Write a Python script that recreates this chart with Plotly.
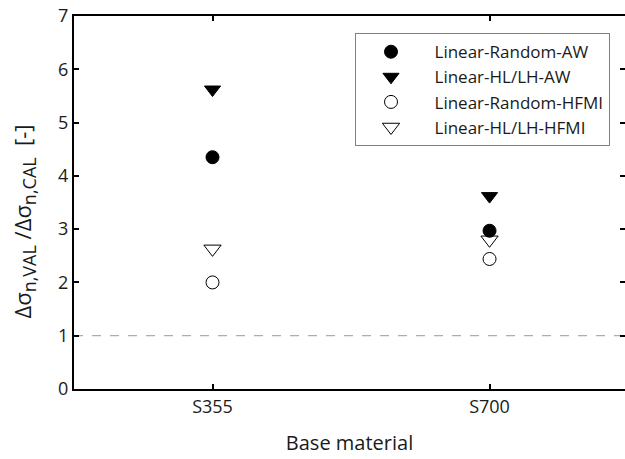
import plotly.graph_objects as go

categories = ["S355", "S700"]
series_names = ["Linear-Random-AW", "Linear-HL/LH-AW", "Linear-Random-HFMI", "Linear-HL/LH-HFMI"]
rand_aw = [4.35, 2.97]
hl_aw = [5.62, 3.62]
rand_hfmi = [2.0, 2.44]
hl_hfmi = [2.63, 2.80]
y_ticks = [0, 1, 2, 3, 4, 5, 6, 7]
ref_level = 1

FONT = "Open Sans"
EM = "\u2002"
styles = [
    dict(symbol="circle", size=13, color="black", line=dict(width=1, color="black")),
    dict(symbol="triangle-down", size=14, color="black", line=dict(width=1, color="black")),
    dict(symbol="circle-open", size=13, color="black", line=dict(width=1, color="black")),
    dict(symbol="triangle-down-open", size=15, color="black", line=dict(width=1, color="black")),
]

fig = go.Figure()
for name, vals, st in zip(series_names, [rand_aw, hl_aw, rand_hfmi, hl_hfmi], styles):
    fig.add_trace(go.Scatter(x=categories, y=vals, mode="markers", name=EM + name, marker=st))

# dummy trace to anchor right-side mirrored ticks
fig.add_trace(go.Scatter(x=categories, y=[None, None], yaxis="y2", showlegend=False, hoverinfo="skip"))

fig.add_shape(type="line", xref="paper", x0=0, x1=1, yref="y", y0=ref_level, y1=ref_level,
              line=dict(color="#999999", width=1, dash="dash"), layer="below")

sub = '<sub><span style="font-size:18px">{}</span></sub>'
ytitle = "Δσ" + sub.format("n,VAL") + " /Δσ" + sub.format("n,CAL") + "  [-]"

fig.add_annotation(
    text=ytitle, textangle=-90, showarrow=False,
    xref="paper", yref="paper", x=-0.09, y=0.45,
    xanchor="center", yanchor="middle",
    font=dict(size=22, family=FONT, color="#1a1a1a"),
)

fig.update_layout(
    width=625, height=459,
    margin=dict(l=74, r=0, t=16, b=70),
    plot_bgcolor="white", paper_bgcolor="white",
    font=dict(family=FONT, size=17, color="#1a1a1a"),
    xaxis=dict(
        type="category", range=[-0.5, 1.489],
        showline=True, linecolor="black", linewidth=2, mirror="ticks",
        ticks="inside", ticklen=5, tickwidth=1.5, tickcolor="black",
        showgrid=False, zeroline=False,
        title=dict(text="Base material", font=dict(size=20), standoff=19),
        tickfont=dict(size=18),
    ),
    yaxis=dict(
        range=[0, 7], tickvals=y_ticks,
        showline=True, linecolor="black", linewidth=2, mirror=False,
        ticks="inside", ticklen=5, tickwidth=1.5, tickcolor="black",
        showgrid=False, zeroline=False,
        tickfont=dict(size=18),
    ),
    yaxis2=dict(
        overlaying="y", side="right", range=[0, 7], tickvals=y_ticks,
        showline=False, showticklabels=False,
        ticks="inside", ticklen=5, tickwidth=1.5, tickcolor="black",
        showgrid=False, zeroline=False,
    ),
    legend=dict(
        x=0.51, y=0.954, xanchor="left", yanchor="top",
        bordercolor="#808080", borderwidth=1, bgcolor="white",
        font=dict(size=17), itemwidth=60,
    ),
    showlegend=True,
)

fig.write_html("out.html")
